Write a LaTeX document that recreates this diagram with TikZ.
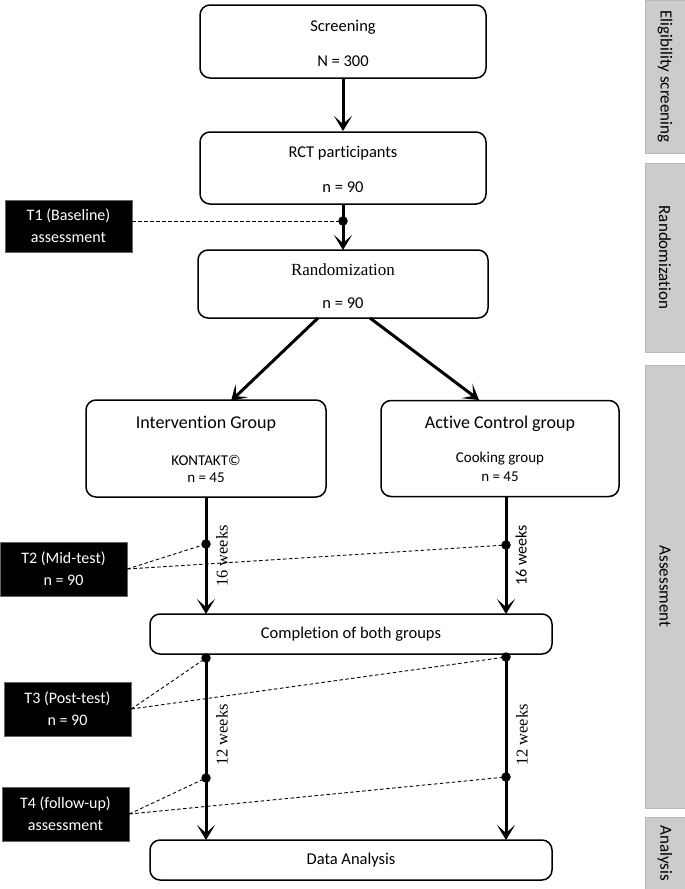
\documentclass[tikz,border=0pt]{standalone}
\usepackage{fontspec}
\setmainfont[Ligatures=NoCommon]{Carlito}
\newfontfamily\seriffont{Liberation Serif}
\usetikzlibrary{arrows.meta}
\tikzset{
  box/.style={draw=black, line width=1.5pt, rounded corners=10pt, fill=white, inner sep=0pt},
  tbox/.style={fill=black, text=white, draw=black!60, line width=0.6pt, inner sep=0pt, align=center, font=\fontsize{16}{22}\selectfont},
  side/.style={fill=black!20, draw=black!28, line width=0.8pt, inner sep=0pt},
  sidetxt/.style={rotate=-90, font=\fontsize{17}{20}\selectfont},
  flow/.style={line width=3pt, -{Stealth[length=15pt,width=18pt,inset=8pt]}},
  dashline/.style={dashed, dash pattern=on 3.5pt off 2.5pt, line width=0.9pt},
  dotm/.style={circle, fill=black, inner sep=0pt, minimum size=9.5pt},
  txt/.style={font=\fontsize{16.5}{19}\selectfont, inner sep=0pt},
  big/.style={font=\fontsize{18}{21}\selectfont, inner sep=0pt},
  small/.style={font=\fontsize{15}{17}\selectfont, inner sep=0pt},
  wk/.style={rotate=90, font=\fontsize{16}{18}\selectfont, inner sep=0pt},
  wks/.style={wk, font=\seriffont\fontsize{16.5}{18}\selectfont},
}
\begin{document}
\begin{tikzpicture}[x=1pt,y=-1pt]
\useasboundingbox (0,0) rectangle (685,889);
% side bars
\node[side, minimum width=40pt, minimum height=153pt] (s1) at (665,76.5) {};
\node[side, minimum width=40pt, minimum height=189pt] (s2) at (665,257.5) {};
\node[side, minimum width=40pt, minimum height=443pt] (s3) at (665,586.5) {};
\node[side, minimum width=40pt, minimum height=72pt] (s4) at (665,853) {};
\node[sidetxt] at (s1) {Eligibility screening};
\node[sidetxt] at (s2) {Randomization};
\node[sidetxt] at (s3) {Assessment};
\node[sidetxt] at (s4) {Analysis};
% boxes
\node[box, minimum width=286pt, minimum height=73pt] (scr) at (343,41.5) {};
\node[txt] at (343,27) {Screening};
\node[txt] at (343,61) {N = 300};
\node[box, minimum width=286pt, minimum height=72pt] (rct) at (343,168) {};
\node[txt] at (343,153) {RCT participants};
\node[txt] at (343,187) {n = 90};
\node[box, minimum width=290pt, minimum height=68pt] (rnd) at (343,284) {};
\node[txt, font=\seriffont\fontsize{17}{19}\selectfont] at (343,270) {Randomization};
\node[txt] at (343,303) {n = 90};
\node[box, minimum width=240pt, minimum height=97pt] (int) at (206,448.5) {};
\node[big] at (206,424) {Intervention Group};
\node[small] at (206,460) {KONTAKT©};
\node[small] at (206,478) {n = 45};
\node[box, minimum width=238pt, minimum height=96pt] (ctl) at (500,448.5) {};
\node[big] at (500,424) {Active Control group};
\node[small] at (500,459) {Cooking group};
\node[small] at (500,477) {n = 45};
\node[box, minimum width=402pt, minimum height=40pt] (cmp) at (351,634) {};
\node[txt] at (351,634) {Completion of both groups};
\node[box, minimum width=402pt, minimum height=40pt] (dat) at (351,860) {};
\node[txt] at (351,860) {Data Analysis};
% T boxes
\node[tbox, minimum width=127pt, minimum height=52pt] (t1) at (68.5,226) {T1 (Baseline)\\assessment};
\node[tbox, minimum width=127pt, minimum height=54pt] (t2) at (63.5,569) {T2 (Mid-test)\\n = 90};
\node[tbox, minimum width=127pt, minimum height=54pt] (t3) at (67.5,709) {T3 (Post-test)\\n = 90};
\node[tbox, minimum width=127pt, minimum height=54pt] (t4) at (65.5,814) {T4 (follow-up)\\assessment};
% coordinates on arrows
\coordinate (a1s) at (343,78);
\coordinate (a1e) at (343,131);
\coordinate (a2s) at (343,204);
\coordinate (a2e) at (343,250);
\coordinate (rl) at (318,318);
\coordinate (rle) at (231,401);
\coordinate (rr) at (370,318);
\coordinate (rre) at (479,400);
\coordinate (il) at (206,497);
\coordinate (ile) at (206,614);
\coordinate (cr) at (506,496);
\coordinate (cre) at (506,614);
\coordinate (ml) at (206,654);
\coordinate (mle) at (206,840);
\coordinate (mr) at (506,654);
\coordinate (mre) at (506,840);
% arrows
\draw[flow] (a1s) -- (a1e);
\draw[flow] (a2s) -- (a2e);
\draw[flow] (rl) -- (rle);
\draw[flow] (rr) -- (rre);
\draw[flow] (il) -- (ile);
\draw[flow] (cr) -- (cre);
\draw[flow] (ml) -- (mle);
\draw[flow] (mr) -- (mre);
% dots
\node[dotm] (d1) at (343,221) {};
\node[dotm] (d2l) at (206,544) {};
\node[dotm] (d2r) at (506,545) {};
\node[dotm] (d3l) at (206,658) {};
\node[dotm] (d3r) at (506,657) {};
\node[dotm] (d4l) at (206,778) {};
\node[dotm] (d4r) at (506,777) {};
% dashed
\draw[dashline] (t1.east |- d1) -- (d1.center);
\draw[dashline] (t2.east) -- (d2l.center);
\draw[dashline] (t2.east) -- (d2r.center);
\draw[dashline] (t3.east) -- (d3l.center);
\draw[dashline] (t3.east) -- (d3r.center);
\draw[dashline] (t4.east) -- (d4l.center);
\draw[dashline] (t4.east) -- (d4r.center);
% week labels
\node[wks] at (222,556) {16 weeks};
\node[wk] at (521,555) {16 weeks};
\node[wks] at (222,735) {12 weeks};
\node[wks] at (522,735) {12 weeks};
\end{tikzpicture}
\end{document}
